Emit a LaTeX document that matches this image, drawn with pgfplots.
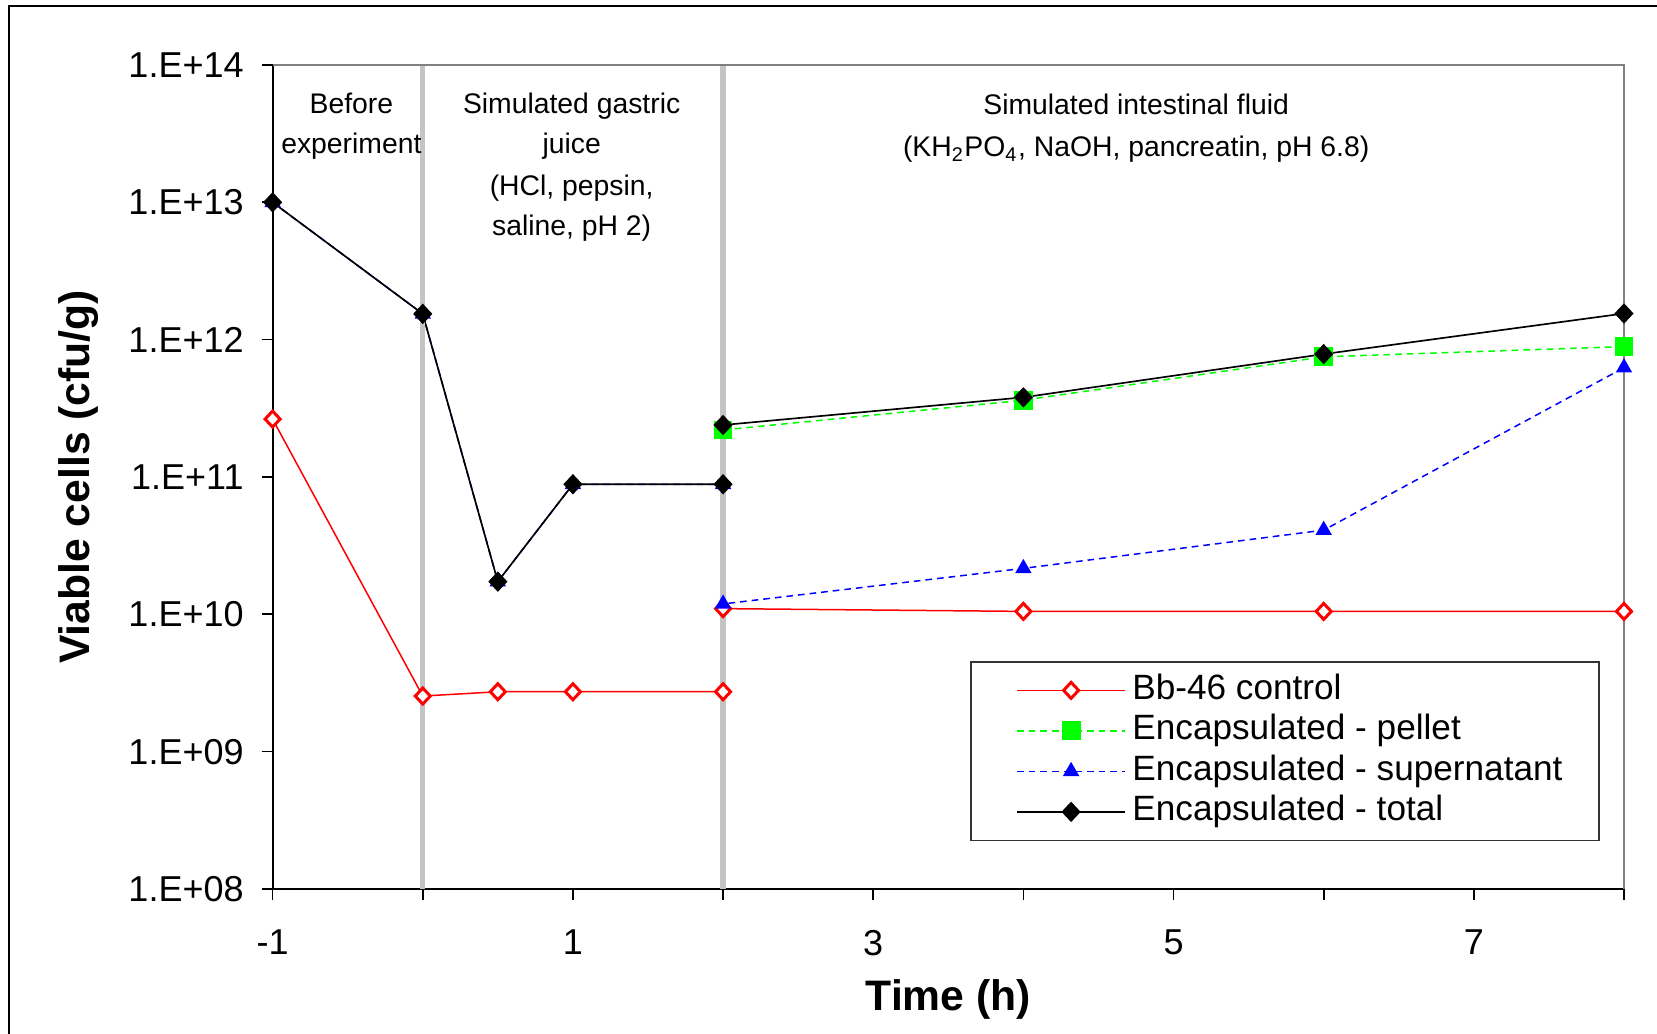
\documentclass[border=0pt]{standalone}
\usepackage{fontspec}
\setmainfont{Liberation Sans}
\usepackage{pgfplots}
\pgfplotsset{compat=1.18}
\newlength\px
\setlength\px{0.3pt}
\definecolor{vgray}{RGB}{196,196,196}
\definecolor{fgray}{RGB}{128,128,128}
\begin{document}
\begin{tikzpicture}
\begin{axis}[
  scale only axis,
  width=1351.4\px, height=824\px,
  ymode=log,
  xmin=-1, xmax=8, ymin=1e8, ymax=1e14,
  axis lines*=left,
  axis line style={black, line width=0.6pt},
  xtick={-1,0,1,2,3,4,5,6,7,8},
  xticklabels={-1,,1,,3,,5,,7,},
  ytick={1e8,1e9,1e10,1e11,1e12,1e13,1e14},
  yticklabels={1.E+08,1.E+09,1.E+10,1.E+11,1.E+12,1.E+13,1.E+14},
  minor y tick num=0,
  minor tick length=0pt,
  tick align=outside,
  major tick length=3.3pt,
  tick style={black, line width=0.5pt},
  ticklabel style={font=\fontsize{10.8}{13}\selectfont},
  xticklabel style={inner sep=0pt, yshift=-8.8pt},
  yticklabel style={inner sep=0pt, xshift=-5.2pt},
  clip=false,
  legend image code/.code={
    \path (-2.6pt,0pt);
    \draw[mark repeat=2,mark phase=2,#1] plot coordinates {(0pt,0pt) (16.25pt,0pt) (32.5pt,0pt)};
  },
  legend cell align=left,
  legend style={
    at={(rel axis cs:0.516,0.058)}, anchor=south west,
    draw=black!80, line width=0.5pt,
    font=\fontsize{10.55}{12}\selectfont,
    inner xsep=11pt, inner ysep=3.55pt,
    row sep=2.15pt, column sep=1.9pt,
    nodes={inner sep=0pt, text height=7.6pt, text depth=2.4pt},
  },
]
\addplot[red, line width=0.45pt, mark=diamond*, mark size=2.4pt,
  mark options={solid, fill=white, line width=0.9pt, xscale=1.25}]
  coordinates {(-1,2.64e11) (0,2.54e9) (0.5,2.73e9) (1,2.73e9) (2,2.73e9)
               (2,1.1e10) (4,1.05e10) (6,1.05e10) (8,1.05e10)};
\addlegendentry{Bb-46 control}
\addplot[green, line width=0.45pt, dash pattern=on 2pt off 1.5pt, mark=square*, mark size=2.6pt,
  mark options={solid, fill=green, draw=green}]
  coordinates {(2,2.2e11) (4,3.62e11) (6,7.5e11) (8,8.9e11)};
\addlegendentry{Encapsulated - pellet}
\addplot[blue, line width=0.45pt, dash pattern=on 2pt off 1.5pt, mark=triangle*, mark size=2.4pt,
  mark options={solid, fill=blue, draw=blue}]
  coordinates {(-1,1e13) (0,1.54e12) (0.5,1.73e10) (1,8.85e10) (2,8.85e10)
               (2,1.19e10) (4,2.16e10) (6,4.1e10) (8,6.25e11)};
\addlegendentry{Encapsulated - supernatant}
\addplot[black, line width=0.5pt, mark=diamond*, mark size=2.7pt,
  mark options={solid, fill=black, xscale=1.25}]
  coordinates {(-1,1e13) (0,1.54e12) (0.5,1.73e10) (1,8.85e10) (2,8.85e10)
               (2,2.39e11) (4,3.8e11) (6,7.85e11) (8,1.55e12)};
\addlegendentry{Encapsulated - total}
\addplot[vgray, line width=1.6pt, forget plot] coordinates {(0,1e8) (0,1e14)};
\addplot[vgray, line width=1.6pt, forget plot] coordinates {(2,1e8) (2,1e14)};
\draw[fgray, line width=0.8pt] (rel axis cs:0,1) -- (rel axis cs:1,1) -- (rel axis cs:1,0);
% annotations
\node[anchor=base, inner sep=0pt, font=\fontsize{8.5}{10}\selectfont] at (rel axis cs:0.0583,0.9405) {Before};
\node[anchor=base, inner sep=0pt, font=\fontsize{8.5}{10}\selectfont] at (rel axis cs:0.0583,0.892) {experiment};
\node[anchor=base, inner sep=0pt, font=\fontsize{8.5}{10}\selectfont] at (rel axis cs:0.2213,0.9417) {Simulated gastric};
\node[anchor=base, inner sep=0pt, font=\fontsize{8.5}{10}\selectfont] at (rel axis cs:0.2213,0.892) {juice};
\node[anchor=base, inner sep=0pt, font=\fontsize{8.5}{10}\selectfont] at (rel axis cs:0.2213,0.8422) {(HCl, pepsin,};
\node[anchor=base, inner sep=0pt, font=\fontsize{8.5}{10}\selectfont] at (rel axis cs:0.2213,0.7925) {saline, pH 2)};
\node[anchor=base, inner sep=0pt, font=\fontsize{8.5}{10}\selectfont] at (rel axis cs:0.639,0.9402) {Simulated intestinal fluid};
\node[anchor=base, inner sep=0pt, font=\fontsize{8.5}{10}\selectfont] at (rel axis cs:0.639,0.8887) {(KH\textsubscript{2}PO\textsubscript{4}, NaOH, pancreatin, pH 6.8)};
% axis labels
\node[anchor=base, inner sep=0pt, font=\bfseries\fontsize{12.8}{14}\selectfont] at ([yshift=-121.7\px]rel axis cs:0.5,0) {Time (h)};
\node[anchor=base, rotate=90, inner sep=0pt, font=\bfseries\fontsize{12.8}{14}\selectfont] at ([xshift=-183.3\px]rel axis cs:0,0.5) {Viable cells (cfu/g)};
\coordinate (O) at (rel axis cs:0,0);
\end{axis}
\pgfresetboundingbox
\useasboundingbox (O) ++(-272.6\px,-145\px) rectangle ++(1657\px,1034\px);
\draw[black, line width=0.6pt] (O) ++(-263.3\px,-300\px) -- ++(0,1183.3\px) -- ++(1800\px,0);
\end{tikzpicture}
\end{document}
